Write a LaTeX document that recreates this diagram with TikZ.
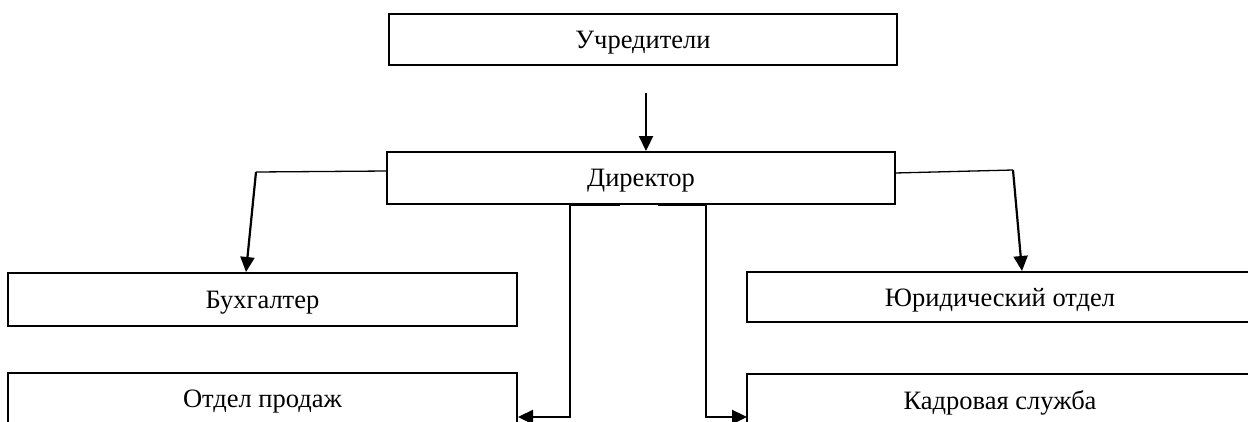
\documentclass[tikz,border=0pt]{standalone}
\usepackage{fontspec}
\setmainfont{Liberation Serif}
\usetikzlibrary{arrows.meta}
\tikzset{
  box/.style={draw, line width=2pt, inner sep=0pt, text depth=0pt, font=\fontsize{26.5}{30}\selectfont},
  thinline/.style={line width=1.3pt},
  arr/.style={line width=2.2pt, -{Triangle[length=15pt,width=14pt]}},
  thickarr/.style={line width=2.4pt, -{Triangle[length=15pt,width=14pt]}},
}
\begin{document}
\begin{tikzpicture}[x=1pt,y=-1pt]
\useasboundingbox (0,0) rectangle (1248,421);
\node[box, minimum width=508pt, minimum height=51pt] (uch) at (643,39.5) {Учредители};
\node[box, minimum width=508pt, minimum height=52pt] (dir) at (641,178) {Директор};
\node[box, minimum width=509pt, minimum height=53pt] (buh) at (262.5,299.5) {Бухгалтер};
\node[box, minimum width=506pt, minimum height=50pt] (yur) at (1000,297) {Юридический отдел};
\node[box, minimum width=509pt, minimum height=52pt] (otd) at (262.5,399) {Отдел продаж};
\node[box, minimum width=506pt, minimum height=52pt] (kad) at (1000,400) {Кадровая служба};
\coordinate (a0) at (646,93);
\coordinate (l0) at (387,171);
\coordinate (l1) at (256,172);
\coordinate (l2) at (246,272);
\coordinate (r0) at (895,173);
\coordinate (r1) at (1013,170);
\coordinate (r2) at (1022,271);
\coordinate (ls) at (620,205);
\coordinate (lc) at (570,205);
\coordinate (ld) at (570,417);
\coordinate (le) at (518,417);
\coordinate (rs) at (658,205);
\coordinate (rc) at (706,205);
\coordinate (rd) at (706,417);
\coordinate (re) at (747,417);
\draw[arr] (a0) -- (a0 |- dir.north);
\draw[thinline] (l0) -- (l1);
\draw[arr] (l1) -- (l2);
\draw[thinline] (r0) -- (r1);
\draw[arr] (r1) -- (r2);
\draw[thickarr] (ls) -- (lc) -- (ld) -- (le);
\draw[thickarr] (rs) -- (rc) -- (rd) -- (re);
\end{tikzpicture}
\end{document}
